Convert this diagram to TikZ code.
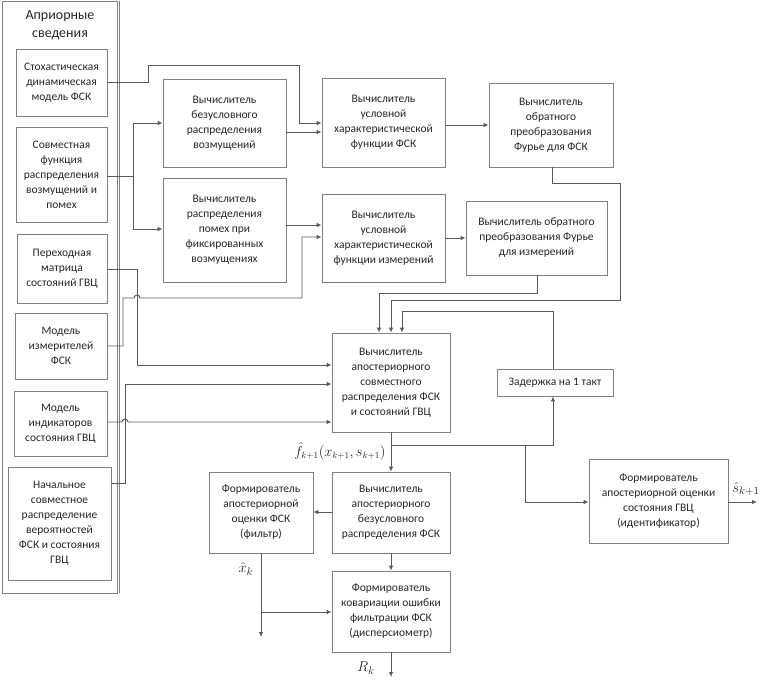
\documentclass[tikz,border=0pt]{standalone}
\usepackage{fontspec}
\setmainfont{Carlito}
\usetikzlibrary{arrows.meta}
\begin{document}
\begin{tikzpicture}[x=1pt,y=-1pt,
  blk/.style={draw=black!50, line width=0.8pt, align=center, inner sep=1pt,
    font=\fontsize{11.5}{15}\selectfont, text=black!85},
  sz/.style 2 args={minimum width=#1pt, minimum height=#2pt},
  wire/.style={draw=black!65, line width=0.9pt},
  arr/.style={wire, -{Latex[length=5pt,width=4.5pt]}},
  lbl/.style={font=\fontsize{15}{17}\selectfont, text=black!85}]
\path[use as bounding box] (0,0) rectangle (763,683);
% left group
\node[draw=black!50, line width=0.8pt, sz={115}{592}] (L0) at (59.5,297) {};
\draw[black!50, line width=0.6pt] (119.5,1) -- (119.5,593);
\node[align=center, font=\fontsize{14}{18}\selectfont, text=black!85] (T0) at (60,25) {Априорные\\сведения};
\node[blk, sz={91}{67}] (L1) at (61.5,82.5) {Стохастическая\\динамическая\\модель ФСК};
\node[blk, sz={91}{95}] (L2) at (61.5,174.5) {Совместная\\функция\\распределения\\возмущений и\\помех};
\node[blk, sz={90}{69}] (L3) at (62,268.5) {Переходная\\матрица\\состояний ГВЦ};
\node[blk, sz={92}{66}] (L4) at (61,346) {Модель\\измерителей\\ФСК};
\node[blk, sz={93}{65}] (L5) at (60.5,423.5) {Модель\\индикаторов\\состояния ГВЦ};
\node[blk, sz={103}{113}] (L6) at (59.5,523.5) {Начальное\\совместное\\распределение\\вероятностей\\ФСК и состояния\\ГВЦ};
% middle
\node[blk, sz={123}{88}] (B1) at (224.5,123) {Вычислитель\\безусловного\\распределения\\возмущений};
\node[blk, sz={123}{104}] (B2) at (224.5,230) {Вычислитель\\распределения\\помех при\\фиксированных\\возмущениях};
\node[blk, sz={123}{89}] (C1) at (383.5,122.5) {Вычислитель\\условной\\характеристической\\функции ФСК};
\node[blk, sz={123}{88}] (C2) at (383.5,238) {Вычислитель\\условной\\характеристической\\функции измерений};
\node[blk, sz={124}{84}] (D1) at (551,125) {Вычислитель\\обратного\\преобразования\\Фурье для ФСК};
\node[blk, sz={141}{74}] (D2) at (536.5,238) {Вычислитель обратного\\преобразования Фурье\\для измерений};
\node[blk, sz={118}{99}] (M) at (391,382.5) {Вычислитель\\апостериорного\\совместного\\распределения ФСК\\и состояний ГВЦ};
\node[blk, sz={116}{27}] (Z) at (555,382.5) {Задержка на 1 такт};
\node[blk, sz={104}{81}] (F) at (261,512.5) {Формирователь\\апостериорной\\оценки ФСК\\(фильтр)};
\node[blk, sz={118}{81}] (G) at (391,512.5) {Вычислитель\\апостериорного\\безусловного\\распределения ФСК};
\node[blk, sz={118}{81}] (H) at (391,611.5) {Формирователь\\ковариации ошибки\\фильтрации ФСК\\(дисперсиометр)};
\node[blk, sz={139}{84}] (I) at (658.5,501) {Формирователь\\апостериорной оценки\\состояния ГВЦ\\(идентификатор)};
% labels
\node[lbl, font=\fontsize{13.5}{15}\selectfont] (lf) at (340,451) {$\hat{f}_{k+1}(x_{k+1},s_{k+1})$};
\node[lbl] (lx) at (246,569) {$\hat{x}_k$};
\node[lbl] (lr) at (366,668) {$R_k$};
\node[lbl] (ls) at (746,489) {$\hat{s}_{k+1}$};
% connectors from left
\draw[arr] (L1.east |- 0,82) -- (148,82) -- (148,65) -- (299,65) -- (299,123) -- (C1.west |- 0,123);
\draw[wire] (L2.east |- 0,176) -- (133,176);
\draw[arr] (133,176) -- (133,123) -- (B1.west |- 0,123);
\draw[arr] (133,176) -- (133,229) -- (B2.west |- 0,229);
\draw[arr] (L3.east |- 0,269) -- (137,269) -- (137,365) -- (M.west |- 0,365);
\draw[arr] (L4.east |- 0,346) -- (123,346) -- (123,298) -- (134,298)
   arc[start angle=180, end angle=0, radius=3pt] -- (302,298) -- (302,237) -- (C2.west |- 0,237);
\draw[arr] (L6.east |- 0,483) -- (125,483) -- (125,384) -- (M.west |- 0,384);
\draw[arr] (L5.east |- 0,422) -- (122,422) arc[start angle=180, end angle=0, radius=3pt] -- (M.west |- 0,422);
% middle connectors
\draw[arr] (B1.east |- 0,132) -- (C1.west |- 0,132);
\draw[arr] (B2.east |- 0,225) -- (C2.west |- 0,225);
\draw[arr] (C1.east |- 0,125) -- (D1.west |- 0,125);
\draw[arr] (C2.east |- 0,238) -- (D2.west |- 0,238);
\draw[arr] (D1.south -| 552,0) -- (552,183) -- (620,183) -- (620,300) -- (391,300) -- (M.north -| 391,0);
\draw[arr] (D2.south -| 537,0) -- (537,293) -- (379,293) -- (M.north -| 379,0);
\draw[arr] (Z.north -| 553,0) -- (553,311) -- (402,311) -- (M.north -| 402,0);
\draw[arr] (M.south) -- (G.north);
\draw[arr] (391,445) -- (553,445) -- (Z.south -| 553,0);
\draw[arr] (525,445) -- (525,502) -- (I.west |- 0,502);
\draw[arr] (G.west |- 0,512) -- (F.east |- 0,512);
\draw[arr] (G.south) -- (H.north);
\coordinate (fo) at (261,637);
\draw[arr] (F.south) -- (fo);
\draw[arr] (261,612) -- (H.west |- 0,612);
\coordinate (ro) at (391,677);
\draw[arr] (H.south) -- (ro);
\coordinate (so) at (757,502);
\draw[arr] (I.east |- 0,502) -- (so);
\end{tikzpicture}
\end{document}
